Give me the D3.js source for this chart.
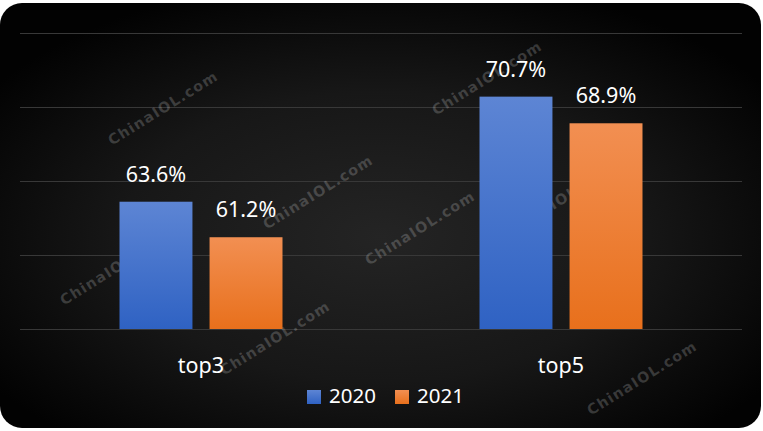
<!DOCTYPE html>
<html>
<head>
<meta charset="utf-8">
<script src="https://cdn.jsdelivr.net/npm/d3@7"></script>
<style>
  html, body { margin: 0; padding: 0; background: #ffffff; }
  svg { display: block; }
</style>
</head>
<body>
<svg id="chart" width="763" height="431"></svg>
<script>
const categories = ["top3", "top5"];
const seriesNames = ["2020", "2021"];
const values2020 = [63.6, 70.7];
const values2021 = [61.2, 68.9];
const yTicks = [55, 60, 65, 70, 75];
const watermarkText = "ChinaIOL.com";
const watermarkSpots = [[163, 108], [487, 78], [318, 192], [420, 228], [115, 268], [275, 338], [642, 378], [560, 200]];

const W = 763, H = 431;
const svg = d3.select("#chart");
const defs = svg.append("defs");

const bg = defs.append("radialGradient").attr("id", "bg")
  .attr("cx", "50%").attr("cy", "55%").attr("r", "62%");
bg.append("stop").attr("offset", "0%").attr("stop-color", "#242424");
bg.append("stop").attr("offset", "55%").attr("stop-color", "#171717");
bg.append("stop").attr("offset", "100%").attr("stop-color", "#020202");

const colors = {
  "2020": ["#5d85d4", "#2f62c3"],
  "2021": ["#f28f52", "#e8701c"]
};
seriesNames.forEach(s => {
  const g = defs.append("linearGradient").attr("id", "g" + s)
    .attr("x1", 0).attr("y1", 0).attr("x2", 0).attr("y2", 1);
  g.append("stop").attr("offset", "0%").attr("stop-color", colors[s][0]);
  g.append("stop").attr("offset", "100%").attr("stop-color", colors[s][1]);
});

// card
svg.append("rect").attr("x", 0).attr("y", 3).attr("width", 761).attr("height", 425)
  .attr("rx", 22).attr("ry", 22).attr("fill", "url(#bg)");

const plot = { left: 21, right: 741, top: 33, bottom: 329 };

const y = d3.scaleLinear().domain([55, 75]).range([plot.bottom, plot.top]);
const x0 = d3.scaleBand().domain(categories).range([plot.left, plot.right]).padding(0);
const x1 = d3.scaleBand().domain(seriesNames).range([0, x0.bandwidth()])
  .paddingInner(0.19).paddingOuter(1.094);

// gridlines
svg.append("g").selectAll("line").data(yTicks).join("line")
  .attr("x1", 20).attr("x2", 742)
  .attr("y1", d => Math.round(y(d)) + 0.5).attr("y2", d => Math.round(y(d)) + 0.5)
  .attr("stroke", "#383838").attr("stroke-width", 1);

// watermarks
svg.append("g").selectAll("text").data(watermarkSpots).join("text")
  .attr("transform", d => `translate(${d[0]},${d[1]}) rotate(-32)`)
  .attr("text-anchor", "middle").attr("dy", "0.35em")
  .attr("font-family", "'DejaVu Sans', sans-serif").attr("font-weight", "bold")
  .attr("font-size", 14.5).attr("letter-spacing", 1.2)
  .attr("fill", "#ffffff").attr("fill-opacity", 0.19)
  .text(watermarkText);

const data = categories.map((c, i) => ({
  cat: c,
  vals: [{ s: "2020", v: values2020[i] }, { s: "2021", v: values2021[i] }]
}));

const groups = svg.append("g").selectAll("g").data(data).join("g")
  .attr("transform", d => `translate(${x0(d.cat)},0)`);

groups.selectAll("rect").data(d => d.vals).join("rect")
  .attr("x", d => x1(d.s)).attr("width", x1.bandwidth())
  .attr("y", d => y(d.v)).attr("height", d => y(55) - y(d.v))
  .attr("fill", d => `url(#g${d.s})`);

groups.selectAll("text.val").data(d => d.vals).join("text")
  .attr("class", "val")
  .attr("x", d => x1(d.s) + x1.bandwidth() / 2)
  .attr("y", d => y(d.v) - 20)
  .attr("text-anchor", "middle")
  .attr("font-family", "'Noto Sans', sans-serif").attr("font-size", 21.5)
  .attr("fill", "#ffffff")
  .text(d => d.v.toFixed(1) + "%");

// category axis labels
svg.append("g").selectAll("text").data(categories).join("text")
  .attr("x", d => x0(d) + x0.bandwidth() / 2)
  .attr("y", 373)
  .attr("text-anchor", "middle")
  .attr("font-family", "'Noto Sans', sans-serif").attr("font-size", 21.5)
  .attr("fill", "#ffffff")
  .text(d => d);

// legend
const legendX = [307, 395];
const lg = svg.append("g").selectAll("g").data(seriesNames).join("g")
  .attr("transform", (d, i) => `translate(${legendX[i]},390)`);
lg.append("rect").attr("width", 14).attr("height", 14)
  .attr("fill", d => `url(#g${d})`);
lg.append("text").attr("x", 22).attr("y", 13)
  .attr("font-family", "'Noto Sans', sans-serif").attr("font-size", 20.5)
  .attr("fill", "#ffffff").text(d => d);
</script>
</body>
</html>
